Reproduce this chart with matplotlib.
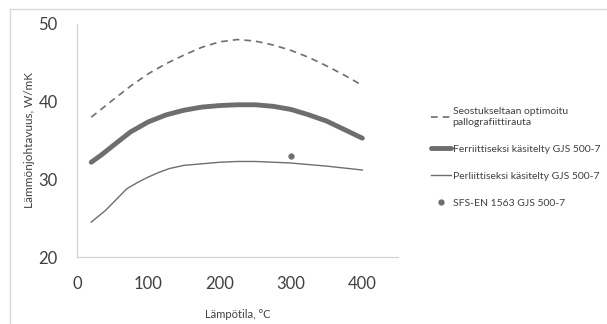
import matplotlib.pyplot as plt
from matplotlib.lines import Line2D

plt.rcParams['font.family'] = ['Lato', 'DejaVu Sans']

# seostukseltaan optimoitu
x_opt = [20, 35, 50, 75, 100, 125, 150, 175, 200, 225, 250, 275, 300, 325, 350, 375, 400]
y_opt = [38.0, 39.1, 40.2, 42.0, 43.6, 44.9, 46.0, 47.0, 47.7, 48.0, 47.8, 47.3, 46.6, 45.7, 44.6, 43.4, 42.1]

# ferriittinen
x_fer = [20, 35, 50, 75, 100, 125, 150, 175, 200, 225, 250, 275, 300, 325, 350, 375, 400]
y_fer = [32.2, 33.2, 34.3, 36.1, 37.4, 38.3, 38.9, 39.3, 39.5, 39.6, 39.6, 39.4, 39.0, 38.3, 37.5, 36.4, 35.3]

# perliittinen
x_per = [20, 40, 70, 85, 100, 115, 130, 150, 175, 200, 225, 250, 275, 300, 350, 400]
y_per = [24.5, 26.0, 28.8, 29.6, 30.3, 30.9, 31.4, 31.8, 32.0, 32.2, 32.3, 32.3, 32.2, 32.1, 31.7, 31.2]

# standardin arvo
x_std = [300]
y_std = [33.0]

labels = ['Seostukseltaan optimoitu\npallografiittirauta',
          'Ferriittiseksi käsitelty GJS 500-7',
          'Perliittiseksi käsitelty GJS 500-7',
          'SFS-EN 1563 GJS 500-7']

fig = plt.figure(figsize=(6.07, 3.24), dpi=100)
ax = fig.add_axes([77/607, 67/324, 321/607, 233/324])

c = '#6e6e6e'
l1, = ax.plot(x_opt, y_opt, ls=(0, (4, 3)), c=c, lw=1.2)
l2, = ax.plot(x_fer, y_fer, c=c, lw=3.5, solid_capstyle='round')
l3, = ax.plot(x_per, y_per, c=c, lw=1.0)
l4, = ax.plot(x_std, y_std, 'o', c=c, ms=3.5, ls='none')

ax.set_xlim(0, 450)
ax.set_ylim(20, 50)
ax.set_xticks([0, 100, 200, 300, 400])
ax.set_yticks([20, 30, 40, 50])
ax.tick_params(length=0, labelsize=12, labelcolor='#404040')
ax.tick_params(axis='x', pad=14)
ax.tick_params(axis='y', pad=14)
for s in ['top', 'right']:
    ax.spines[s].set_visible(False)
for s in ['left', 'bottom']:
    ax.spines[s].set_color('#d0d0d0')

ax.set_xlabel('Lämpötila, °C', fontsize=8, color='#404040', labelpad=12)
ax.set_ylabel('Lämmönjohtavuus, W/mK', fontsize=8.5, color='#404040')
ax.yaxis.set_label_coords(-0.13, 0.5)

fig.legend([l1, l2, l3, l4], labels, loc='upper left',
           bbox_to_anchor=(422/607, 1 - 98/324), frameon=False,
           fontsize=7.5, labelcolor='#404040', handlelength=1.9,
           handletextpad=0.15, labelspacing=1.7)

# kehys
fig.add_artist(Line2D([10/607, 1], [1 - 9/324, 1 - 9/324], c='#d9d9d9', lw=1))
fig.add_artist(Line2D([10/607, 10/607], [0, 1 - 9/324], c='#d9d9d9', lw=1))

fig.savefig('out.png', dpi=100)
